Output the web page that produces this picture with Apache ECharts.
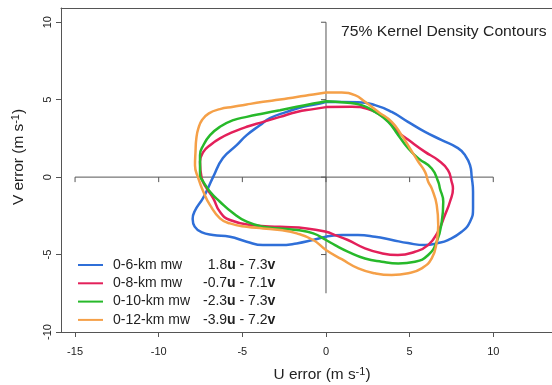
<!DOCTYPE html>
<html><head><meta charset="utf-8">
<script src="https://cdn.jsdelivr.net/npm/echarts@6/dist/echarts.min.js"></script>
<style>html,body{margin:0;padding:0;background:#fff}#c{width:552px;height:385px}</style>
</head><body><div id="c"></div>
<script>
// ---- data ----
const uTicks = [-15, -10, -5, 0, 5, 10];
const vTicks = [-10, -5, 0, 5, 10];
const innerUTicks = [-15, -10, -5, 0, 5, 10];
const innerVTicks = [-5, 0, 5, 10];
const innerUExtent = [-15, 10];
const innerVExtent = [-7.5, 10];
const seriesNames = ['0-6-km mw', '0-8-km mw', '0-10-km mw', '0-12-km mw'];
const fitU = ['1.8', '-0.7', '-2.3', '-3.9'];
const fitV = ['7.3', '7.1', '7.3', '7.2'];
const titleText = '75% Kernel Density Contours';

const mw6 = [[0,4.86],[1.91,4.84],[2.93,4.65],[3.93,4.21],[4.9,3.57],[5.92,2.92],[6.92,2.39],[7.89,1.87],[8.31,1.42],[8.61,0.77],[8.71,0.02],[8.79,-0.95],[8.79,-2.0],[8.61,-2.88],[8.11,-3.53],[7.29,-4.06],[6.69,-4.26],[5.92,-4.39],[4.9,-4.26],[3.95,-4.06],[2.93,-3.85],[1.91,-3.74],[0.96,-3.74],[0,-3.85],[-0.78,-4.06],[-1.75,-4.28],[-2.75,-4.39],[-3.77,-4.39],[-4.74,-4.17],[-5.74,-3.85],[-6.76,-3.74],[-7.45,-3.55],[-7.85,-3.2],[-7.97,-2.7],[-7.85,-2.2],[-7.35,-1.35],[-7.05,-0.71],[-6.75,0],[-6.16,1.23],[-5.34,2.06],[-4.74,2.71],[-3.95,3.35],[-3.35,3.81],[-2.35,4.21],[-1.37,4.54],[-0.36,4.75],[0,4.86]];
const mw8 = [[0,4.52],[1.54,4.54],[2.51,4.39],[3.53,3.79],[4.3,2.92],[4.9,2.43],[5.92,1.63],[6.69,1.1],[7.29,0.45],[7.51,-0.3],[7.59,-0.73],[7.41,-1.59],[7.11,-2.45],[6.69,-3.53],[6.1,-4.39],[5.32,-4.82],[4.3,-5.03],[3.33,-4.92],[2.33,-4.6],[1.31,-4.06],[0.54,-3.74],[0,-3.53],[-1.15,-3.31],[-2.75,-3.21],[-4.35,-3.1],[-5.74,-2.77],[-6.34,-2.24],[-6.74,-1.37],[-7.13,-0.73],[-7.43,-0.08],[-7.53,0.99],[-7.33,1.63],[-6.93,2.06],[-6.34,2.5],[-5.54,2.92],[-4.74,3.25],[-3.75,3.57],[-2.75,3.89],[-1.75,4.21],[-0.76,4.39],[0,4.52]];
const mw10 = [[0,4.9],[1.14,4.82],[2.13,4.65],[2.93,4.21],[3.72,3.57],[4.32,2.71],[4.92,1.85],[5.52,1.21],[6.32,0.56],[6.71,-0.3],[6.81,-0.73],[7.01,-1.59],[6.92,-2.88],[6.62,-4.17],[6.11,-5.03],[5.32,-5.46],[4.32,-5.57],[3.33,-5.46],[2.33,-5.25],[1.33,-4.82],[0.54,-4.39],[0,-4.06],[-0.76,-3.63],[-1.75,-3.42],[-2.75,-3.31],[-3.75,-3.21],[-4.74,-2.88],[-5.54,-2.34],[-6.34,-1.59],[-6.93,-0.95],[-7.33,-0.3],[-7.53,0.13],[-7.53,1.42],[-7.33,2.06],[-6.93,2.71],[-6.34,3.25],[-5.54,3.68],[-4.74,3.89],[-3.75,4.11],[-2.75,4.32],[-1.75,4.54],[-0.76,4.75],[0,4.9]];
const mw12 = [[0,5.46],[0.94,5.46],[1.73,5.29],[2.33,4.86],[3.13,4.21],[3.93,3.57],[4.52,2.71],[5.02,1.85],[5.52,0.99],[5.92,0.34],[6.11,-0.3],[6.32,-0.73],[6.62,-1.81],[6.71,-3.1],[6.62,-4.17],[6.32,-5.25],[5.72,-5.89],[4.92,-6.21],[3.93,-6.32],[2.93,-6.21],[1.93,-5.89],[0.94,-5.3],[0,-4.7],[-0.76,-4.06],[-1.75,-3.63],[-2.75,-3.42],[-3.75,-3.31],[-4.74,-3.21],[-5.74,-2.99],[-6.34,-2.66],[-6.93,-1.81],[-7.33,-0.95],[-7.63,-0.08],[-7.83,0.77],[-7.8,1.63],[-7.75,2.5],[-7.63,3.14],[-7.4,3.7],[-7.0,4.12],[-6.34,4.39],[-5.54,4.54],[-4.74,4.69],[-3.75,4.86],[-2.75,5.01],[-1.75,5.18],[-0.76,5.33],[0,5.46]];
const contours = [mw6, mw8, mw10, mw12];

// ---- style ----
const colors = ['#2f6fd8', '#e3205a', '#27b92a', '#f5a048'];
const axisColor = '#555';
const textColor = '#222';
const FONT = '"Liberation Sans", Arial, Helvetica, sans-serif';
const U_MIN = -15.84, U_MAX = 13.51, V_MIN = -10, V_MAX = 10.92;

const chart = echarts.init(document.getElementById('c'), null, {renderer: 'canvas'});

function tickSeries(data, dx, dy) {
  return {
    type: 'custom', silent: true, z: 3, clip: false,
    data: data,
    renderItem: function (params, api) {
      const p = api.coord([api.value(0), api.value(1)]);
      return {type: 'line', shape: {x1: p[0], y1: p[1], x2: p[0] + dx, y2: p[1] + dy},
        style: {stroke: axisColor, lineWidth: 1}};
    }
  };
}

const series = [];
series.push({type: 'line', data: innerUExtent.map(u => [u, 0]), symbol: 'none', silent: true, z: 3,
  lineStyle: {color: axisColor, width: 1}});
series.push({type: 'line', data: innerVExtent.map(v => [0, v]), symbol: 'none', silent: true, z: 3,
  lineStyle: {color: axisColor, width: 1}});
series.push(tickSeries(innerUTicks.map(u => [u, 0]), 0, 5));
series.push(tickSeries(innerVTicks.map(v => [0, v]), -5, 0));
contours.forEach((d, i) => {
  series.push({
    name: seriesNames[i], type: 'line', data: d, smooth: 0.5, symbol: 'none', z: 5 + i,
    lineStyle: {color: colors[i], width: 2.5}, itemStyle: {color: colors[i]}
  });
});

const rowStyle = {fontSize: 14, lineHeight: 14, color: textColor, fontFamily: FONT};

const option = {
  animation: false,
  backgroundColor: '#fff',
  textStyle: {fontFamily: FONT},
  grid: {left: 61, top: 8, right: 0, bottom: 53, show: false, containLabel: false},
  xAxis: [{
    type: 'value', min: U_MIN, max: U_MAX,
    axisLine: {show: true, onZero: false, lineStyle: {color: axisColor, width: 1}},
    splitLine: {show: false},
    axisTick: {show: true, customValues: uTicks, length: 5, lineStyle: {color: axisColor}},
    axisLabel: {customValues: uTicks, fontSize: 11, color: textColor, margin: 14, fontFamily: FONT}
  }, {
    type: 'value', position: 'top', min: U_MIN, max: U_MAX,
    axisLine: {show: true, onZero: false, lineStyle: {color: axisColor, width: 1}},
    splitLine: {show: false}, axisTick: {show: false}, axisLabel: {show: false}
  }],
  yAxis: {
    type: 'value', min: V_MIN, max: V_MAX,
    axisLine: {show: true, onZero: false, lineStyle: {color: axisColor, width: 1}},
    splitLine: {show: false},
    axisTick: {show: true, customValues: vTicks, length: 5, lineStyle: {color: axisColor}},
    axisLabel: {customValues: vTicks, fontSize: 11, color: textColor, rotate: 90, margin: 8, fontFamily: FONT}
  },
  legend: {
    data: seriesNames, orient: 'vertical', left: 78, top: 258, padding: 0,
    itemWidth: 25, itemHeight: 14, itemGap: 4.3, icon: 'path://M0,6 L25,6 L25,8 L0,8 Z',
    formatter: function (name) {
      const i = seriesNames.indexOf(name);
      const pad = fitU[i].charAt(0) === '-' ? '' : '{p| }';
      return '{a|' + name + '}' + pad + '{n|' + fitU[i] + '}{b|u}{t| - ' + fitV[i] + '}{b|v}';
    },
    textStyle: {
      fontFamily: FONT, fontSize: 14, color: textColor,
      rich: {
        a: Object.assign({width: 90, padding: [0, 0, 0, 5]}, rowStyle),
        p: Object.assign({width: 4.7}, rowStyle),
        n: Object.assign({}, rowStyle),
        b: Object.assign({fontWeight: 'bold'}, rowStyle),
        t: Object.assign({}, rowStyle)
      }
    }
  },
  graphic: [
    {type: 'text', x: 341, y: 32, scaleX: 1.12, silent: true,
      style: {text: titleText, font: '14px ' + FONT, fill: textColor, textVerticalAlign: 'middle', textAlign: 'left'}},
    {type: 'text', x: 322, y: 375, scaleX: 1.1, silent: true,
      style: {text: '{m|U error (m s}{s|-1}{m|)}', textAlign: 'center', textVerticalAlign: 'middle',
        rich: {m: {font: '14px ' + FONT, fill: textColor, lineHeight: 16}, s: {font: '10px ' + FONT, fill: textColor, lineHeight: 10, verticalAlign: 'top'}}}},
    {type: 'text', x: 19, y: 157, rotation: Math.PI / 2, scaleX: 1.1, silent: true,
      style: {text: '{m|V error (m s}{s|-1}{m|)}', textAlign: 'center', textVerticalAlign: 'middle',
        rich: {m: {font: '14px ' + FONT, fill: textColor, lineHeight: 16}, s: {font: '10px ' + FONT, fill: textColor, lineHeight: 10, verticalAlign: 'top'}}}}
  ],
  series: series
};
chart.setOption(option);
</script>
</body></html>
